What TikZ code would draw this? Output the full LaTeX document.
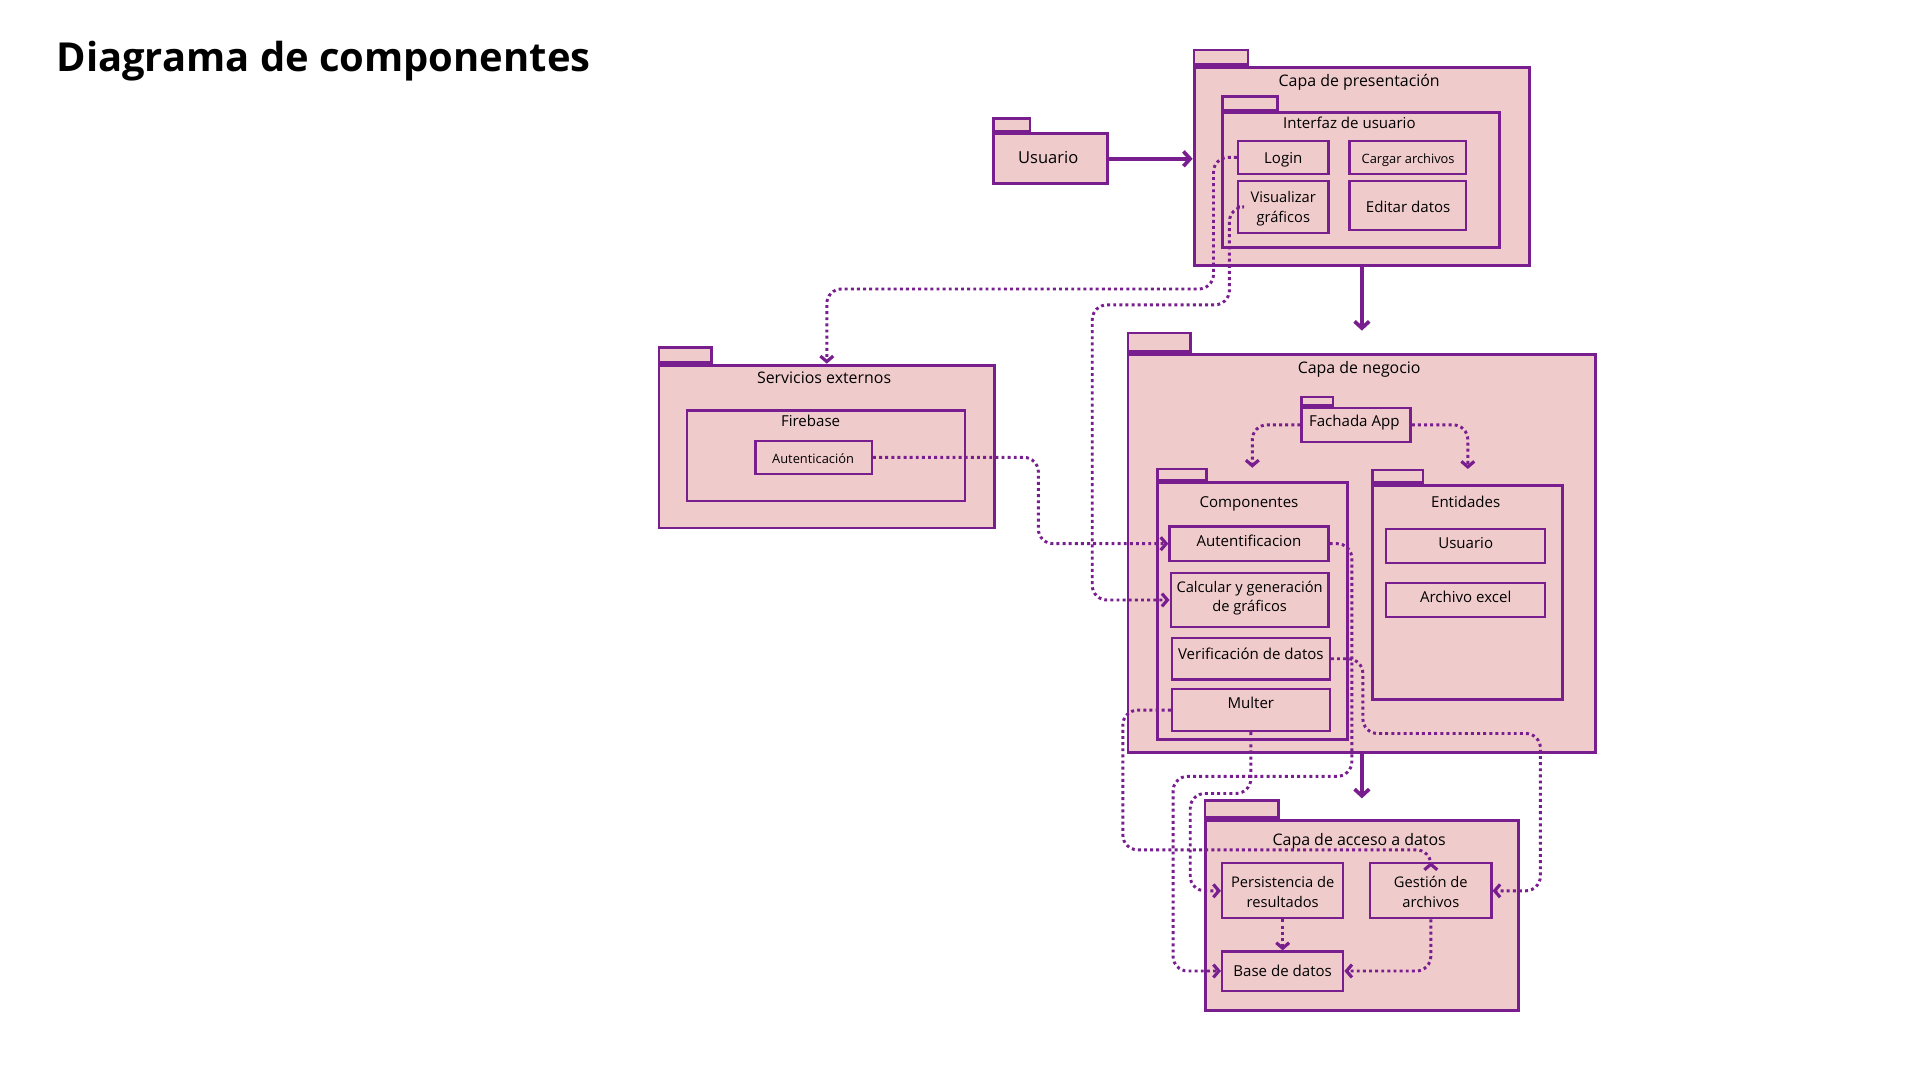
\documentclass[tikz,border=0pt]{standalone}
\usepackage{fontspec}
\setmainfont{Open Sans}
\usetikzlibrary{arrows.meta}
\definecolor{pk}{HTML}{F0CBCC}
\definecolor{pu}{HTML}{781E8E}
\tikzset{
  pkg/.style={draw=pu, fill=pk, line width=2.4pt, inner sep=0pt, rectangle},
  tabbox/.style={draw=pu, fill=pk, line width=2.2pt, inner sep=0pt, rectangle},
  cbox/.style={draw=pu, fill=pk, line width=1.8pt, inner sep=0pt, rectangle},
  ttl/.style={font=\fontsize{13}{16}\selectfont, inner sep=0pt, text height=9.3pt, text depth=2.6pt, yshift=-2pt},
  sttl/.style={font=\fontsize{12.3}{15}\selectfont, inner sep=0pt, text height=8.8pt, text depth=2.4pt, yshift=-2pt},
  xs/.style={font=\fontsize{10.5}{13}\selectfont, inner sep=0pt, text height=7.6pt, text depth=2.1pt, yshift=-2pt},
  lbl/.style={font=\fontsize{12}{16}\selectfont, inner sep=0pt, align=center, yshift=-1.5pt},
  flow/.style={draw=pu, line width=3pt, -{Straight Barb[length=5.5pt,width=12pt,line width=3pt]}},
  dep/.style={draw=pu, line width=2.4pt, dash pattern=on 2.4pt off 2.6pt, rounded corners=12pt, -{Straight Barb[length=4.5pt,width=10.5pt,line width=2.6pt]}},
}
\begin{document}
\begin{tikzpicture}[x=1pt,y=-1pt]
\useasboundingbox (0,0) rectangle (1568,882);

\node[anchor=west, inner sep=0pt, font=\fontsize{32.6}{38}\selectfont\bfseries] (title) at (46,50) {Diagrama de componentes};

% Usuario package
\node[tabbox, minimum width=30, minimum height=10, anchor=south west] (usrtab) at (810,108) {};
\node[pkg, minimum width=93, minimum height=41, anchor=north west] (usr) at (810,108) {};
\node[ttl, font=\fontsize{13.5}{16}\selectfont] (usrtxt) at (856,128) {Usuario};

% Capa de presentacion
\node[tabbox, minimum width=44, minimum height=12, anchor=south west] (prestab) at (974,54) {};
\node[pkg, minimum width=274, minimum height=162, anchor=north west] (pres) at (974,54) {};
\node[ttl] (prestitle) at (1110,65) {Capa de presentación};
\node[tabbox, minimum width=45, minimum height=11, anchor=south west] (uitab) at (997,91) {};
\node[pkg, minimum width=226, minimum height=110, anchor=north west] (ui) at (997,91) {};
\node[sttl] (uititle) at (1102,100) {Interfaz de usuario};
\node[cbox, minimum width=74, minimum height=27] (login) at (1048,128.5) {};
\node[sttl] (logintxt) at (1048,128) {Login};
\node[cbox, minimum width=95, minimum height=27] (cargar) at (1149.5,128.5) {};
\node[xs] (cargartxt) at (1150,129) {Cargar archivos};
\node[cbox, minimum width=74, minimum height=42] (vis) at (1048,169) {};
\node[lbl] (vistxt) at (1048,169) {Visualizar\\gráficos};
\node[cbox, minimum width=95, minimum height=40] (editar) at (1149.5,168) {};
\node[sttl] (editartxt) at (1150,168) {Editar datos};

% Servicios externos
\node[tabbox, minimum width=43, minimum height=12, anchor=south west] (sexttab) at (537,297) {};
\node[pkg, minimum width=274, minimum height=133, anchor=north west] (sext) at (537,297) {};
\node[ttl] (sexttitle) at (673,308) {Servicios externos};
\node[pkg, line width=2.2pt, minimum width=227, minimum height=74, anchor=north west] (fire) at (560,334) {};
\node[sttl] (firetitle) at (662,343) {Firebase};
\node[cbox, minimum width=95, minimum height=27] (authfb) at (664.5,373.5) {};
\node[xs] (authfbtxt) at (664,374) {Autenticación};

% Capa de negocio
\node[tabbox, minimum width=51, minimum height=15, anchor=south west] (negtab) at (920,288) {};
\node[pkg, minimum width=382, minimum height=325, anchor=north west] (neg) at (920,288) {};
\node[ttl] (negtitle) at (1110,300) {Capa de negocio};
\node[tabbox, line width=1.8pt, minimum width=26, minimum height=7, anchor=south west] (fachtab) at (1062,332) {};
\node[pkg, line width=2pt, minimum width=89, minimum height=28, anchor=north west] (fach) at (1062,332) {};
\node[sttl] (fachtitle) at (1106,343) {Fachada App};

\node[tabbox, minimum width=40, minimum height=9, anchor=south west] (comptab) at (944,393) {};
\node[pkg, minimum width=155, minimum height=210, anchor=north west] (comp) at (944,393) {};
\node[sttl] (comptitle) at (1020,409) {Componentes};
\node[cbox, minimum width=130, minimum height=28] (autent) at (1020,444) {};
\node[sttl] (autenttxt) at (1020,441) {Autentificacion};
\node[cbox, minimum width=129, minimum height=44] (calc) at (1020.5,490) {};
\node[lbl] (calctxt) at (1020.5,487) {Calcular y generación\\de gráficos};
\node[cbox, minimum width=129, minimum height=34] (verif) at (1021.5,538) {};
\node[sttl] (veriftxt) at (1021.5,533) {Verificación de datos};
\node[cbox, minimum width=129, minimum height=34] (multer) at (1021.5,580) {};
\node[sttl] (multertxt) at (1021.5,573) {Multer};

\node[tabbox, minimum width=41, minimum height=10, anchor=south west] (enttab) at (1120,395) {};
\node[pkg, minimum width=155, minimum height=175, anchor=north west] (ent) at (1120,395) {};
\node[sttl] (enttitle) at (1197,409) {Entidades};
\node[cbox, minimum width=130, minimum height=28] (eusr) at (1197,446) {};
\node[sttl] (eusrtxt) at (1197,443) {Usuario};
\node[cbox, minimum width=130, minimum height=28] (excel) at (1197,490) {};
\node[sttl] (exceltxt) at (1197,487) {Archivo excel};

% Capa de acceso a datos
\node[tabbox, minimum width=60, minimum height=14, anchor=south west] (acctab) at (983,669) {};
\node[pkg, minimum width=256, minimum height=155, anchor=north west] (acc) at (983,669) {};
\node[ttl] (acctitle) at (1110,685) {Capa de acceso a datos};
\node[cbox, minimum width=99, minimum height=45] (pers) at (1047.5,727.5) {};
\node[lbl] (perstxt) at (1047.5,727) {Persistencia de\\resultados};
\node[cbox, minimum width=99, minimum height=45] (gest) at (1168.5,727.5) {};
\node[lbl] (gesttxt) at (1168.5,727) {Gestión de\\archivos};
\node[cbox, minimum width=99, minimum height=32] (bd) at (1047.5,793) {};
\node[sttl] (bdtxt) at (1047.5,792) {Base de datos};

% solid connectors
\draw[flow] (usr.east) -- (usr.east -| pres.west);
\draw[flow] (pres.south) -- ([yshift=18pt]neg.north);
\draw[flow] (neg.south) -- ([yshift=17pt]acc.north);

% dotted dependencies
\draw[dep] (login.west) -| (991,236) -| (sext.north);
\draw[dep] (vis.west) -| (1004,249) -| (892,490) -- (calc.west);
\draw[dep] (authfb.east) -| (848,444) -- (autent.west);
\draw[dep] (fach.west) -| ([yshift=11pt]comp.north);
\draw[dep] (fach.east) -| ([yshift=12pt]ent.north);
\draw[dep] (autent.east) -| (1104,634) -| (958,793) -- (bd.west);
\draw[dep] (verif.east) -| (1113,599) -| (1258,727.5) -- (gest.east);
\draw[dep] (multer.west) -| (917,694) -| (gest.north);
\draw[dep] (multer.south) |- (972,648) |- (pers.west);
\draw[dep] (pers.south) -- (bd.north);
\draw[dep] (gest.south) |- (bd.east);
\end{tikzpicture}
\end{document}
